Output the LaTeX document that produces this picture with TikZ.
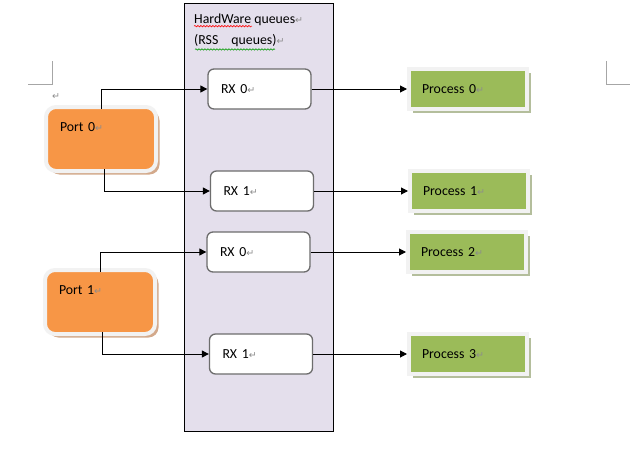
\documentclass[tikz,border=0pt]{standalone}
\usepackage{fontspec}
\setmainfont{Carlito}
\newfontfamily\markfont{DejaVu Sans}
\usetikzlibrary{arrows.meta,shadows,calc,decorations.pathmorphing}
\definecolor{queuelilac}{HTML}{E4DFEC}
\definecolor{portorange}{HTML}{F79646}
\definecolor{portshade}{HTML}{D3A98B}
\definecolor{procgreen}{HTML}{9BBB59}
\definecolor{procshade}{HTML}{B4BE9C}
\definecolor{glowgray}{HTML}{F2F2F2}
\definecolor{rxedge}{HTML}{6D6D6D}
\definecolor{markgray}{HTML}{8C8C8C}
\definecolor{cropgray}{HTML}{A6A6A6}
\newcommand{\retmark}{{\markfont\fontsize{9.5}{9.5}\selectfont\textcolor{markgray}{↵}}}
\begin{document}
\begin{tikzpicture}[x=1pt,y=-1pt,font=\fontsize{13.8}{16}\selectfont]
  \tikzset{queuebox/.style={draw,fill=queuelilac,line width=1pt,minimum width=149pt,minimum height=427pt,inner sep=0pt},
    rxbox/.style={draw=rxedge,fill=white,line width=1.3pt,rounded corners=6pt,minimum width=103pt,minimum height=40pt,inner xsep=13pt,inner ysep=0pt,text width=77pt,align=left},
    port/.style={draw=glowgray,fill=portorange,line width=4pt,rounded corners=10pt,minimum width=110pt,minimum height=64pt,inner xsep=14pt,inner ysep=0pt,text width=82pt,align=left,text height=24.5pt,text depth=39.5pt,drop shadow={shadow xshift=3.5pt,shadow yshift=-3.5pt,fill=portshade,opacity=1}},
    proc/.style={draw=glowgray,fill=procgreen,line width=4pt,minimum width=118pt,minimum height=40pt,inner xsep=13pt,inner ysep=0pt,text width=92pt,align=left,drop shadow={shadow xshift=3.5pt,shadow yshift=-3.5pt,fill=procshade,opacity=1}},
    conn/.style={line width=1pt,-{Triangle[length=7pt,width=7pt]}},
    squiggle/.style={line width=.6pt,decorate,decoration={snake,amplitude=.7pt,segment length=3pt}},
    plain/.style={anchor=west,inner sep=0pt}}
  \useasboundingbox (0,0) rectangle (642,460);
  \draw[cropgray,line width=.8pt] (28,84)--(52,84)--(52,61);
  \draw[cropgray,line width=.8pt] (606,61)--(606,84)--(630,84);
  \node[inner sep=0pt] (strayret) at (56,97) {\retmark};
  \node[queuebox] (hwq) at (258.5,217.5) {};
  \node[plain] (hwtitle) at (194,20) {HardWare queues\retmark};
  \node[plain] (rsstitle) at (194,41) {(RSS\hspace{10pt} queues)\retmark};
  \draw[squiggle,red] ($(hwtitle.base west)+(0,2.5)$)--++(58,0);
  \draw[squiggle,green!60!black] ($(rsstitle.base west)+(1,4.5)$)--++(80,0);
  \node[rxbox] (rx0a) at (259.5,89) {RX 0\retmark};
  \node[rxbox] (rx1a) at (262,191) {RX 1\retmark};
  \node[rxbox] (rx0b) at (258.5,252) {RX 0\retmark};
  \node[rxbox] (rx1b) at (261,354) {RX 1\retmark};
  \node[port] (port0) at (101,139) {Port 0\retmark};
  \node[port] (port1) at (100,302) {Port 1\retmark};
  \node[proc] (proc0) at (468,89) {Process 0\retmark};
  \node[proc] (proc1) at (469,191) {Process 1\retmark};
  \node[proc] (proc2) at (467,252) {Process 2\retmark};
  \node[proc] (proc3) at (468,354) {Process 3\retmark};
  \draw[conn,shorten <=-4pt] (port0.north) |- (rx0a.west);
  \draw[conn,shorten <=-4pt] ([xshift=3pt]port0.south) |- (rx1a.west);
  \draw[conn,shorten <=-4pt] (port1.north) |- (rx0b.west);
  \draw[conn,shorten <=-4pt] ([xshift=2pt]port1.south) |- (rx1b.west);
  \draw[conn] (rx0a.east) -- (proc0.west);
  \draw[conn] (rx1a.east) -- (proc1.west);
  \draw[conn] (rx0b.east) -- (proc2.west);
  \draw[conn] (rx1b.east) -- (proc3.west);
\end{tikzpicture}
\end{document}
